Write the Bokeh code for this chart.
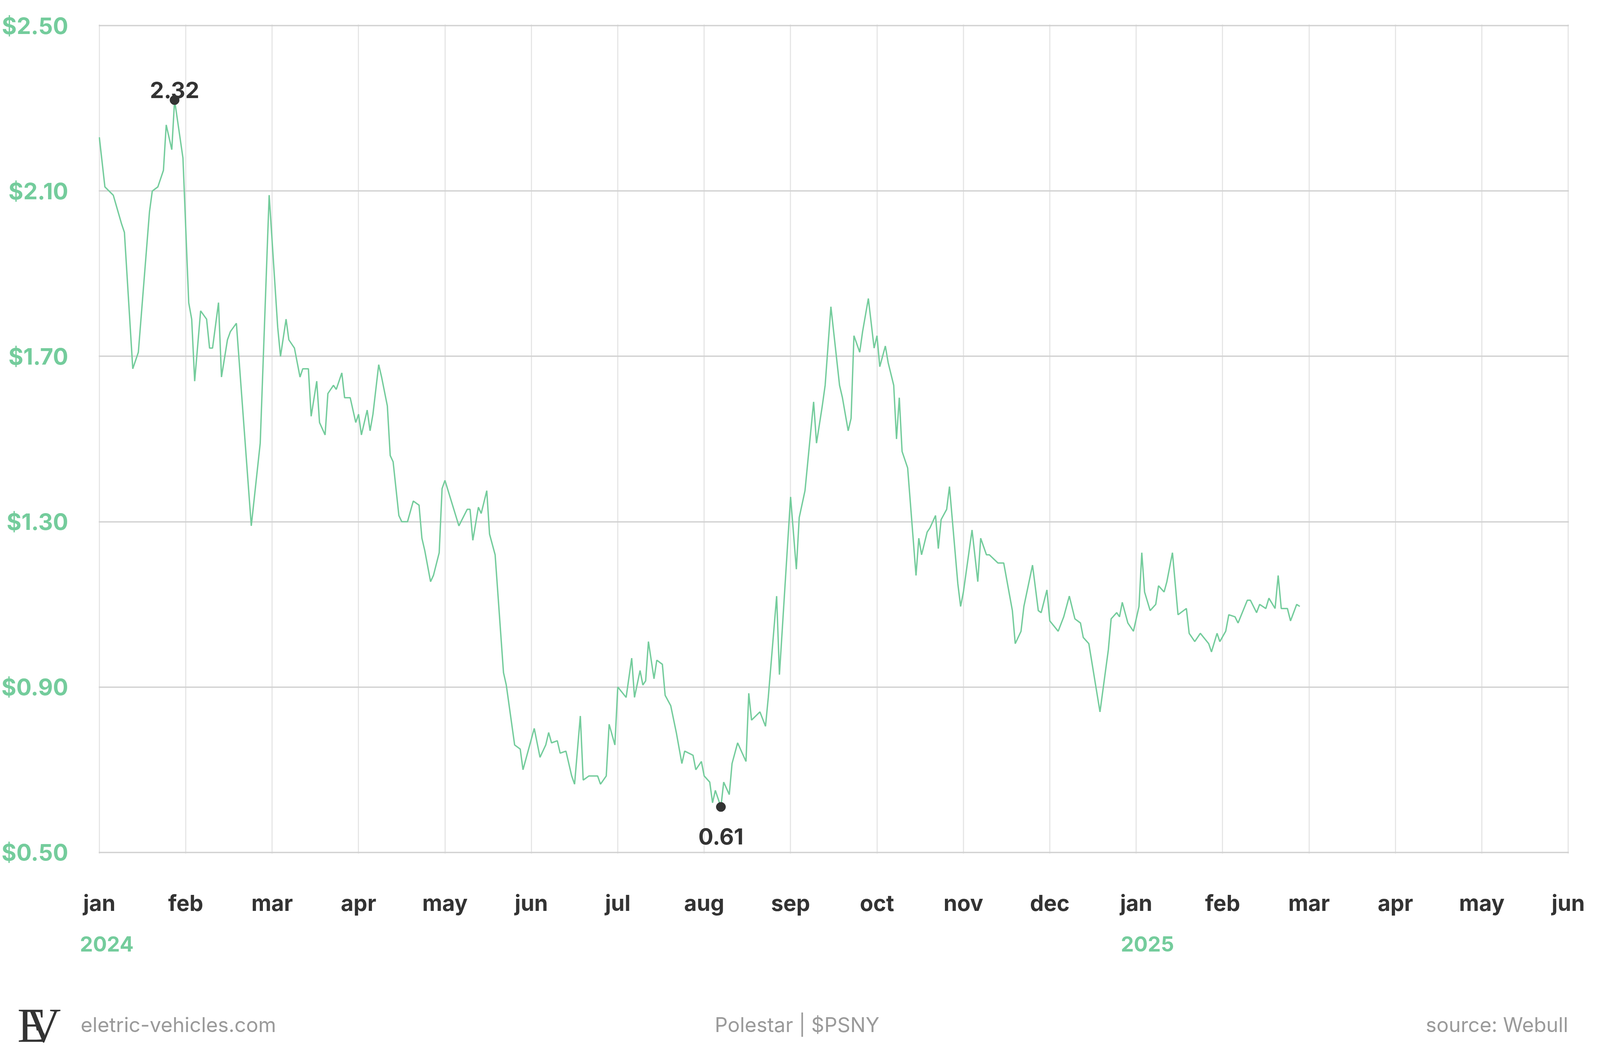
import numpy as np
import pandas as pd
from bokeh.plotting import figure
from bokeh.layouts import column
from bokeh.models import Range1d, FixedTicker, PrintfTickFormatter, Label
from bokeh.embed import file_html
from bokeh.resources import INLINE

# Polestar ($PSNY) closing prices
dates = [
    "2024-01-01", "2024-01-03", "2024-01-06", "2024-01-09", "2024-01-10", "2024-01-13",
    "2024-01-15", "2024-01-19", "2024-01-20", "2024-01-22", "2024-01-24", "2024-01-25",
    "2024-01-27", "2024-01-28", "2024-01-31", "2024-02-02", "2024-02-03", "2024-02-04",
    "2024-02-06", "2024-02-08", "2024-02-09", "2024-02-10", "2024-02-12", "2024-02-13",
    "2024-02-15", "2024-02-16", "2024-02-18", "2024-02-23", "2024-02-26", "2024-02-29",
    "2024-03-03", "2024-03-04", "2024-03-06", "2024-03-07", "2024-03-09", "2024-03-11",
    "2024-03-12", "2024-03-14", "2024-03-15", "2024-03-17", "2024-03-18", "2024-03-20",
    "2024-03-21", "2024-03-23", "2024-03-24", "2024-03-26", "2024-03-27", "2024-03-29",
    "2024-03-31", "2024-04-01", "2024-04-02", "2024-04-04", "2024-04-05", "2024-04-06",
    "2024-04-08", "2024-04-09", "2024-04-11", "2024-04-12", "2024-04-13", "2024-04-15",
    "2024-04-16", "2024-04-18", "2024-04-20", "2024-04-22", "2024-04-23", "2024-04-24",
    "2024-04-26", "2024-04-27", "2024-04-29", "2024-04-30", "2024-05-01", "2024-05-06",
    "2024-05-09", "2024-05-10", "2024-05-11", "2024-05-13", "2024-05-14", "2024-05-16",
    "2024-05-17", "2024-05-19", "2024-05-22", "2024-05-23", "2024-05-26", "2024-05-28",
    "2024-05-29", "2024-06-02", "2024-06-04", "2024-06-06", "2024-06-07", "2024-06-08",
    "2024-06-10", "2024-06-11", "2024-06-13", "2024-06-15", "2024-06-16", "2024-06-18",
    "2024-06-19", "2024-06-21", "2024-06-24", "2024-06-25", "2024-06-27", "2024-06-28",
    "2024-06-30", "2024-07-01", "2024-07-04", "2024-07-06", "2024-07-07", "2024-07-09",
    "2024-07-10", "2024-07-11", "2024-07-12", "2024-07-14", "2024-07-15", "2024-07-17",
    "2024-07-18", "2024-07-20", "2024-07-22", "2024-07-24", "2024-07-25", "2024-07-28",
    "2024-07-29", "2024-07-31", "2024-08-01", "2024-08-03", "2024-08-04", "2024-08-05",
    "2024-08-07", "2024-08-08", "2024-08-10", "2024-08-11", "2024-08-13", "2024-08-16",
    "2024-08-17", "2024-08-18", "2024-08-21", "2024-08-23", "2024-08-24", "2024-08-27",
    "2024-08-28", "2024-09-01", "2024-09-03", "2024-09-04", "2024-09-06", "2024-09-09",
    "2024-09-10", "2024-09-12", "2024-09-13", "2024-09-15", "2024-09-18", "2024-09-19",
    "2024-09-21", "2024-09-22", "2024-09-23", "2024-09-25", "2024-09-26", "2024-09-28",
    "2024-09-30", "2024-10-01", "2024-10-02", "2024-10-04", "2024-10-05", "2024-10-07",
    "2024-10-08", "2024-10-09", "2024-10-10", "2024-10-12", "2024-10-15", "2024-10-16",
    "2024-10-17", "2024-10-19", "2024-10-20", "2024-10-22", "2024-10-23", "2024-10-24",
    "2024-10-26", "2024-10-27", "2024-10-30", "2024-10-31", "2024-11-01", "2024-11-04",
    "2024-11-06", "2024-11-07", "2024-11-09", "2024-11-10", "2024-11-13", "2024-11-15",
    "2024-11-18", "2024-11-19", "2024-11-21", "2024-11-22", "2024-11-25", "2024-11-27",
    "2024-11-28", "2024-11-30", "2024-12-01", "2024-12-04", "2024-12-06", "2024-12-08",
    "2024-12-10", "2024-12-12", "2024-12-13", "2024-12-15", "2024-12-19", "2024-12-22",
    "2024-12-23", "2024-12-25", "2024-12-26", "2024-12-27", "2024-12-29", "2024-12-31",
    "2025-01-02", "2025-01-03", "2025-01-04", "2025-01-06", "2025-01-08", "2025-01-09",
    "2025-01-11", "2025-01-12", "2025-01-14", "2025-01-16", "2025-01-19", "2025-01-20",
    "2025-01-22", "2025-01-24", "2025-01-27", "2025-01-28", "2025-01-30", "2025-01-31",
    "2025-02-02", "2025-02-03", "2025-02-05", "2025-02-06", "2025-02-09", "2025-02-10",
    "2025-02-12", "2025-02-13", "2025-02-15", "2025-02-16", "2025-02-18", "2025-02-19",
    "2025-02-20", "2025-02-22", "2025-02-23", "2025-02-25", "2025-02-26",
]
prices = [
    2.23, 2.11, 2.09, 2.02, 2.00, 1.67,
    1.71, 2.05, 2.10, 2.11, 2.15, 2.26,
    2.20, 2.32, 2.18, 1.83, 1.79, 1.64,
    1.81, 1.79, 1.72, 1.72, 1.83, 1.65,
    1.74, 1.76, 1.78, 1.29, 1.49, 2.09,
    1.77, 1.70, 1.79, 1.74, 1.72, 1.65,
    1.67, 1.67, 1.555, 1.64, 1.54, 1.51,
    1.61, 1.63, 1.62, 1.66, 1.60, 1.60,
    1.54, 1.56, 1.51, 1.57, 1.52, 1.56,
    1.68, 1.65, 1.58, 1.46, 1.445, 1.315,
    1.30, 1.30, 1.35, 1.34, 1.26, 1.23,
    1.155, 1.17, 1.225, 1.38, 1.40, 1.29,
    1.33, 1.33, 1.255, 1.335, 1.32, 1.375,
    1.27, 1.22, 0.935, 0.905, 0.76, 0.75,
    0.70, 0.80, 0.73, 0.76, 0.79, 0.765,
    0.77, 0.74, 0.745, 0.685, 0.665, 0.83,
    0.675, 0.685, 0.685, 0.665, 0.685, 0.81,
    0.76, 0.90, 0.875, 0.97, 0.875, 0.94,
    0.905, 0.915, 1.01, 0.92, 0.965, 0.955,
    0.88, 0.855, 0.79, 0.715, 0.745, 0.735,
    0.70, 0.72, 0.685, 0.67, 0.62, 0.65,
    0.61, 0.67, 0.64, 0.715, 0.765, 0.72,
    0.885, 0.82, 0.84, 0.805, 0.875, 1.12,
    0.93, 1.36, 1.185, 1.31, 1.375, 1.59,
    1.49, 1.58, 1.63, 1.82, 1.63, 1.60,
    1.52, 1.55, 1.75, 1.71, 1.76, 1.84,
    1.72, 1.75, 1.675, 1.725, 1.685, 1.63,
    1.50, 1.60, 1.47, 1.43, 1.17, 1.26,
    1.22, 1.275, 1.285, 1.315, 1.235, 1.305,
    1.33, 1.385, 1.15, 1.095, 1.13, 1.28,
    1.155, 1.26, 1.22, 1.22, 1.20, 1.20,
    1.085, 1.005, 1.035, 1.095, 1.195, 1.085,
    1.08, 1.135, 1.06, 1.035, 1.07, 1.12,
    1.065, 1.055, 1.02, 1.005, 0.84, 0.99,
    1.065, 1.08, 1.07, 1.105, 1.055, 1.035,
    1.095, 1.225, 1.13, 1.085, 1.10, 1.145,
    1.13, 1.155, 1.225, 1.075, 1.09, 1.03,
    1.01, 1.03, 1.005, 0.985, 1.03, 1.01,
    1.035, 1.075, 1.07, 1.055, 1.11, 1.11,
    1.08, 1.10, 1.09, 1.115, 1.09, 1.17,
    1.09, 1.09, 1.06, 1.10, 1.095,
]

month_labels = ["jan", "feb", "mar", "apr", "may", "jun", "jul", "aug", "sep",
                "oct", "nov", "dec", "jan", "feb", "mar", "apr", "may", "jun"]
year_labels = {0: "2024", 12: "2025"}
y_ticks = [0.5, 0.9, 1.3, 1.7, 2.1, 2.5]

GREEN = "#74cc9c"
DARK = "#333333"
GREY = "#9a9a9a"
FONT = "Inter"

W = 4080
LEFT, RIGHT, TOP, BOTTOM = 241, 64, 62, 168
FRAME_H = 2122
MAIN_H = TOP + FRAME_H + BOTTOM
FOOT_H = 2694 - MAIN_H
n_months = len(month_labels) - 1
month_px = (W - LEFT - RIGHT) / n_months
# a hair of padding so the border grid lines are not clipped away
pad_x, pad_y = 0.008, 0.003

# every month gets the same width on the x axis
d = pd.to_datetime(dates)
xs = ((d.year - 2024) * 12 + (d.month - 1) + (d.day - 1) / d.days_in_month).to_numpy()
ys = np.array(prices)

p = figure(
    width=W,
    height=MAIN_H,
    x_range=Range1d(-pad_x, n_months + pad_x),
    y_range=Range1d(y_ticks[0] - pad_y, y_ticks[-1] + pad_y),
    output_backend="svg",
    toolbar_location=None,
    tools="",
    min_border_left=LEFT,
    min_border_right=RIGHT,
    min_border_top=TOP,
    min_border_bottom=BOTTOM,
)
p.outline_line_color = None
p.background_fill_color = "white"
p.border_fill_color = "white"

p.line(xs, ys, line_color=GREEN, line_width=3.5)

# high / low markers
i_max = int(np.argmax(ys))
i_min = int(np.argmin(ys))
p.scatter([xs[i_max], xs[i_min]], [ys[i_max], ys[i_min]], size=24, color=DARK)
note = dict(text_align="center", text_baseline="alphabetic", text_font=FONT,
            text_font_style="bold", text_font_size="57px", text_color=DARK)
p.add_layout(Label(x=xs[i_max], y=ys[i_max], text="{:.2f}".format(ys[i_max]),
                   y_offset=26, **note))
p.add_layout(Label(x=xs[i_min], y=ys[i_min], text="{:.2f}".format(ys[i_min]),
                   y_offset=-76, **note))

# axes
p.xaxis.ticker = FixedTicker(ticks=list(range(len(month_labels))))
p.xaxis.major_label_overrides = {i: lab for i, lab in enumerate(month_labels)}
p.xaxis.major_label_text_font = FONT
p.xaxis.major_label_text_font_style = "bold"
p.xaxis.major_label_text_font_size = "56px"
p.xaxis.major_label_text_color = DARK
p.xaxis.major_label_standoff = 92

p.yaxis.ticker = FixedTicker(ticks=y_ticks)
p.yaxis.formatter = PrintfTickFormatter(format="$%.2f")
p.yaxis.major_label_text_font = FONT
p.yaxis.major_label_text_font_style = "bold"
p.yaxis.major_label_text_font_size = "58px"
p.yaxis.major_label_text_color = GREEN
p.yaxis.major_label_standoff = 78

for ax in (p.xaxis, p.yaxis):
    ax.axis_line_color = None
    ax.major_tick_line_color = None
    ax.minor_tick_line_color = None
    ax.major_tick_out = 0
    ax.major_tick_in = 0

p.xgrid.grid_line_color = "#e6e6e6"
p.xgrid.grid_line_width = 3
p.ygrid.grid_line_color = "#d2d2d2"
p.ygrid.grid_line_width = 3.5

# strip under the chart: years and credits, full width, same month scale
foot = figure(
    width=W,
    height=FOOT_H,
    x_range=Range1d(-LEFT / month_px, n_months + RIGHT / month_px),
    y_range=Range1d(FOOT_H, 0),
    output_backend="svg",
    toolbar_location=None,
    tools="",
    x_axis_location=None,
    y_axis_location=None,
    min_border=0,
)
foot.grid.visible = False
foot.outline_line_color = None
foot.background_fill_color = "white"
foot.border_fill_color = "white"
# keep the strip's frame at full width instead of lining it up with the chart
for fig in (p, foot):
    if "frame_align" in fig.properties():
        fig.frame_align = False


def fx(px):
    # canvas pixel -> month position
    return (px - LEFT) / month_px


for m, yr in year_labels.items():
    foot.add_layout(Label(x=m, y=63, x_offset=-37, text=yr, text_align="left",
                          text_baseline="alphabetic", text_font=FONT,
                          text_font_style="bold", text_font_size="53px",
                          text_color=GREEN))

credit = dict(y=270, text_baseline="alphabetic", text_font=FONT,
              text_font_size="52px", text_color=GREY)
foot.add_layout(Label(x=fx(206), text="eletric-vehicles.com", text_align="left", **credit))
foot.add_layout(Label(x=fx(W / 2), text="Polestar | $PSNY", text_align="center", **credit))
foot.add_layout(Label(x=fx(4014), text="source: Webull", text_align="right", **credit))

logo = dict(y=272, text_baseline="alphabetic", text_align="left",
            text_font="Liberation Serif", text_font_size="124px", text_color=DARK)
foot.add_layout(Label(x=fx(44), text="E", **logo))
foot.add_layout(Label(x=fx(66), text="V", **logo))

layout = column(p, foot, spacing=0)

open("out.html", "w").write(file_html(layout, INLINE))
